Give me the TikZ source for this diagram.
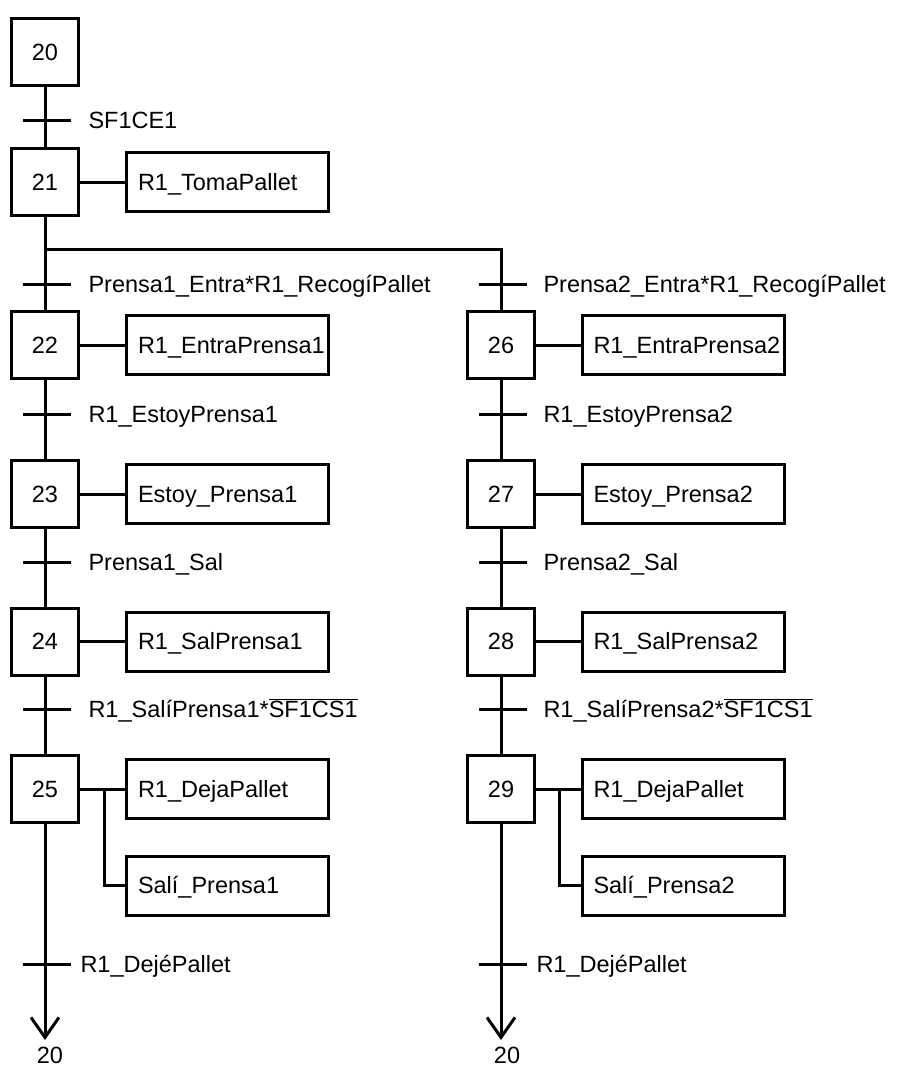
\documentclass[tikz,border=0pt]{standalone}
\usepackage{fontspec}
\setmainfont{Liberation Sans}
\usetikzlibrary{arrows.meta}
\newcommand\ovl[1]{\ensuremath{\overline{\mbox{#1}}}}
\begin{document}
\begin{tikzpicture}[x=1pt,y=-1pt,line width=3pt,
  every node/.style={font=\fontsize{23.5}{28}\selectfont},
  stepbox/.style={draw,rectangle,minimum width=67pt,minimum height=67pt,inner sep=0pt,text height=16.8pt,text depth=0pt},
  actbox/.style={draw,rectangle,minimum width=202pt,minimum height=59pt,inner xsep=11.5pt,inner ysep=0pt,text width=179pt,align=left,text height=16.8pt,text depth=0pt},
  tlabel/.style={anchor=west,inner sep=0pt,text height=16.8pt,text depth=0pt},
  tick/.style={line width=3pt},
  endarrow/.style={-{Straight Barb[length=20pt,width=28pt,line width=3pt]}}
]
\useasboundingbox (0,0) rectangle (898,1068);
\fill[white] (0,0) rectangle (898,1068);

% steps
\node[stepbox] (s20) at (45,52) {20};
\node[stepbox] (s21) at (45,182) {21};
\node[stepbox] (s22) at (45,345) {22};
\node[stepbox] (s23) at (45,494) {23};
\node[stepbox] (s24) at (45,641.5) {24};
\node[stepbox] (s25) at (45,789) {25};
\node[stepbox] (s26) at (501,345) {26};
\node[stepbox] (s27) at (501,494) {27};
\node[stepbox] (s28) at (501,641.5) {28};
\node[stepbox] (s29) at (501,789) {29};

% actions
\node[actbox] (a21) at (227.5,182) {R1\_TomaPallet};
\node[actbox] (a22) at (227.5,345) {R1\_EntraPrensa1};
\node[actbox] (a23) at (227.5,494) {Estoy\_Prensa1};
\node[actbox] (a24) at (227.5,641.5) {R1\_SalPrensa1};
\node[actbox] (a25a) at (227.5,789) {R1\_DejaPallet};
\node[actbox] (a25b) at (227.5,885.5) {Salí\_Prensa1};
\node[actbox] (a26) at (683,345) {R1\_EntraPrensa2};
\node[actbox] (a27) at (683,494) {Estoy\_Prensa2};
\node[actbox] (a28) at (683,641.5) {R1\_SalPrensa2};
\node[actbox] (a29a) at (683,789) {R1\_DejaPallet};
\node[actbox] (a29b) at (683,885.5) {Salí\_Prensa2};

% vertical links
\draw (s20) -- (s21);
\draw (s21) -- (s22);
\draw (s22) -- (s23);
\draw (s23) -- (s24);
\draw (s24) -- (s25);
\coordinate (br) at (45,249);
\draw (br) -| (s26.north);
\draw (s26) -- (s27);
\draw (s27) -- (s28);
\draw (s28) -- (s29);
\coordinate (endL) at (45,1040);
\coordinate (endR) at (501,1040);
\draw[endarrow] (s25.south) -- (endL);
\draw[endarrow] (s29.south) -- (endR);

% action links
\draw (s21) -- (a21);
\draw (s22) -- (a22);
\draw (s23) -- (a23);
\draw (s24) -- (a24);
\draw (s25) -- (a25a);
\coordinate (j25) at (104,789);
\draw (j25) |- (a25b.west);
\draw (s26) -- (a26);
\draw (s27) -- (a27);
\draw (s28) -- (a28);
\draw (s29) -- (a29a);
\coordinate (j29) at (559,789);
\draw (j29) |- (a29b.west);

% transitions
\foreach \n/\x/\y in {t20/45/120,t21/45/284,t22/45/414,t23/45/562,t24/45/709,t25/45/964,
                      t26/501/284,t27/501/414,t28/501/562,t29/501/709,t30/501/964}{
  \coordinate (\n) at (\x,\y);
  \draw[tick] ([xshift=-22pt]\n) -- ([xshift=26pt]\n);
}
\node[tlabel] (l20) at (87,120) {SF1CE1};
\node[tlabel] (l21) at (87,284) {Prensa1\_Entra*R1\_RecogíPallet};
\node[tlabel] (l22) at (87,414) {R1\_EstoyPrensa1};
\node[tlabel] (l23) at (87,562) {Prensa1\_Sal};
\node[tlabel] (l24) at (87,709) {R1\_SalíPrensa1*\ovl{SF1CS1}};
\node[tlabel] (l25) at (79,964) {R1\_DejéPallet};
\node[tlabel] (l26) at (542,284) {Prensa2\_Entra*R1\_RecogíPallet};
\node[tlabel] (l27) at (542,414) {R1\_EstoyPrensa2};
\node[tlabel] (l28) at (542,562) {Prensa2\_Sal};
\node[tlabel] (l29) at (542,709) {R1\_SalíPrensa2*\ovl{SF1CS1}};
\node[tlabel] (l30) at (535,964) {R1\_DejéPallet};

% targets
\node[inner sep=0pt,text height=16.8pt,text depth=0pt] (g1) at (50,1055) {20};
\node[inner sep=0pt,text height=16.8pt,text depth=0pt] (g2) at (507,1055) {20};
\end{tikzpicture}
\end{document}
